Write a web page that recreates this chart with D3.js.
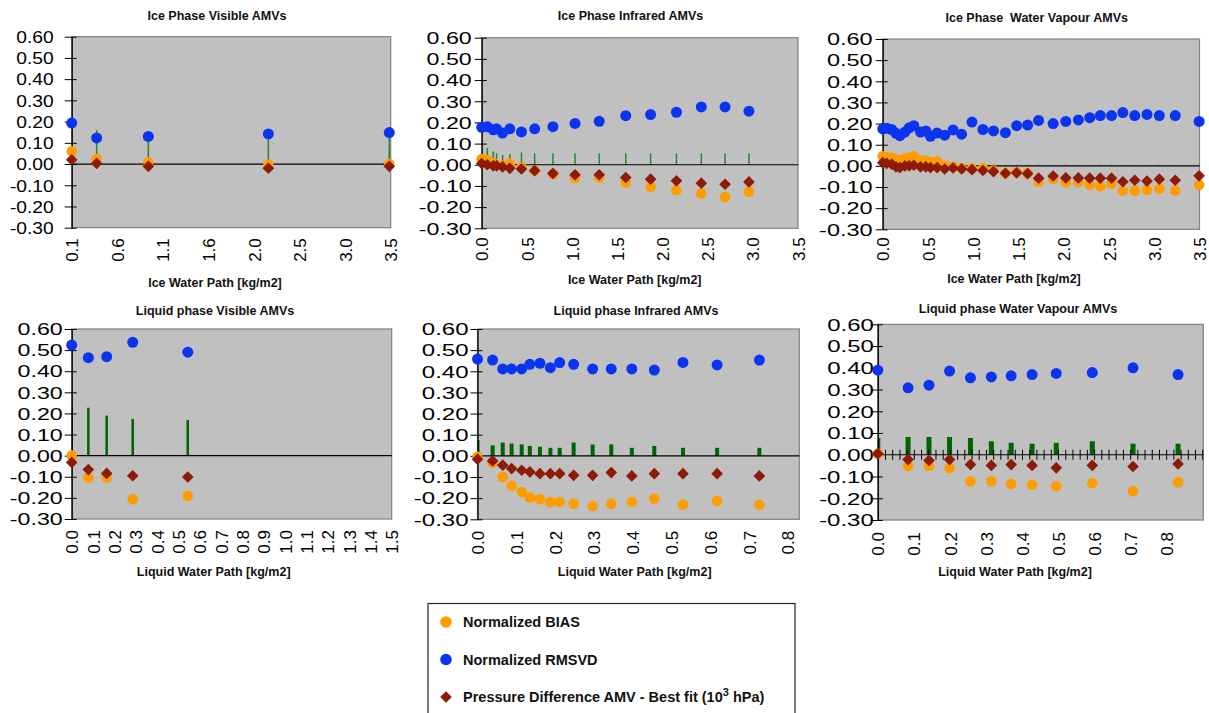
<!DOCTYPE html>
<html>
<head>
<meta charset="utf-8">
<script src="https://cdn.jsdelivr.net/npm/d3@7"></script>
<style>
body { margin: 0; background: #fff; }
text { font-family: "Liberation Sans", Arial, sans-serif; }
</style>
</head>
<body>
<svg id="chart" width="1209" height="713"></svg>
<script>
// ---- data ----
// Ice phase visible
const p1X     = [0.1, 0.366, 0.917, 2.196, 3.485];
const p1Bias  = [0.06, 0.024, 0.008, -0.003, 0.0];
const p1Rmsvd = [0.193, 0.123, 0.13, 0.142, 0.148];
const p1Press = [0.02, 0.003, -0.011, -0.02, -0.011];
const p1Freq  = [0.15, 0.161, 0.126, 0.126, 0.134];
const p1XTicks = [0.1, 0.586, 1.071, 1.557, 2.043, 2.529, 3.014, 3.5];

// Ice phase infrared
const p2X     = [0.0, 0.062, 0.128, 0.165, 0.231, 0.311, 0.44, 0.586, 0.788, 1.033, 1.30, 1.594, 1.869, 2.155, 2.43, 2.693, 2.957];
const p2Bias  = [0.027, 0.022, 0.008, 0.0, -0.005, 0.006, -0.013, -0.028, -0.044, -0.063, -0.06, -0.084, -0.104, -0.12, -0.136, -0.152, -0.127];
const p2Rmsvd = [0.177, 0.18, 0.165, 0.17, 0.15, 0.17, 0.155, 0.17, 0.18, 0.195, 0.205, 0.232, 0.237, 0.248, 0.273, 0.273, 0.253];
const p2Press = [0.006, 0.0, -0.005, -0.005, -0.01, -0.017, -0.02, -0.028, -0.041, -0.047, -0.047, -0.06, -0.068, -0.076, -0.087, -0.092, -0.081];
const p2Freq  = [0.0, 0.079, 0.063, 0.054, 0.047, 0.05, 0.058, 0.054, 0.054, 0.054, 0.054, 0.054, 0.054, 0.054, 0.054, 0.054, 0.054];
const p2XTicks = [0, 0.5, 1.0, 1.5, 2.0, 2.5, 3.0, 3.5];

// Ice phase water vapour
const p3X     = [0.0, 0.044, 0.099, 0.147, 0.19, 0.245, 0.293, 0.344, 0.418, 0.476, 0.528, 0.601, 0.685, 0.777, 0.872, 0.986, 1.107,
                 1.224, 1.356, 1.48, 1.601, 1.722, 1.883, 2.023, 2.162, 2.287, 2.404, 2.528, 2.653, 2.785, 2.92, 3.056, 3.232, 3.496];
const p3Bias  = [0.045, 0.042, 0.038, 0.03, 0.025, 0.035, 0.038, 0.045, 0.025, 0.025, 0.018, 0.02, 0.0, -0.005, -0.01, -0.012, -0.012,
                 -0.022, -0.035, -0.03, -0.035, -0.075, -0.062, -0.078, -0.076, -0.088, -0.097, -0.085, -0.118, -0.118, -0.113, -0.108, -0.117, -0.09];
const p3Rmsvd = [0.175, 0.178, 0.172, 0.154, 0.143, 0.16, 0.18, 0.19, 0.16, 0.165, 0.14, 0.155, 0.145, 0.17, 0.15, 0.207, 0.172,
                 0.165, 0.157, 0.19, 0.193, 0.215, 0.2, 0.21, 0.217, 0.228, 0.238, 0.238, 0.252, 0.238, 0.243, 0.238, 0.238, 0.21];
const p3Press = [0.015, 0.012, 0.008, -0.005, -0.008, 0.0, 0.0, 0.003, -0.005, -0.005, -0.008, -0.008, -0.015, -0.01, -0.015, -0.018, -0.022,
                 -0.027, -0.035, -0.033, -0.037, -0.058, -0.048, -0.057, -0.057, -0.058, -0.058, -0.058, -0.075, -0.068, -0.072, -0.063, -0.068, -0.047];
const p3Freq  = [0.003, 0.003, 0.003, 0.003, 0.003, 0.003, 0.003, 0.004, 0.004, 0.004, 0.004, 0.004, 0.004, 0.005, 0.005, 0.006, 0.005,
                 0.006, 0.005, 0.006, 0.006, 0.006, 0.005, 0.006, 0.005, 0.005, 0.005, 0.005, 0.005, 0.005, 0.005, 0.005, 0.005, 0.005];
const p3XTicks = [0, 0.5, 1.0, 1.5, 2.0, 2.5, 3.0, 3.5];

// Liquid phase visible
const p4X     = [0.0, 0.078, 0.164, 0.286, 0.544];
const p4Bias  = [0.0, -0.104, -0.104, -0.207, -0.191];
const p4Rmsvd = [0.524, 0.464, 0.469, 0.537, 0.49];
const p4Press = [-0.032, -0.066, -0.084, -0.095, -0.101];
const p4Freq  = [0.232, 0.227, 0.19, 0.174, 0.169];
const p4XTicks = [0, 0.1, 0.2, 0.3, 0.4, 0.5, 0.6, 0.7, 0.8, 0.9, 1.0, 1.1, 1.2, 1.3, 1.4, 1.5];

// Liquid phase infrared
const p5X     = [0.0, 0.039, 0.065, 0.088, 0.114, 0.135, 0.161, 0.188, 0.212, 0.248, 0.297, 0.345, 0.398, 0.456, 0.53, 0.618, 0.727];
const p5Bias  = [-0.005, -0.032, -0.1, -0.142, -0.171, -0.197, -0.205, -0.218, -0.218, -0.226, -0.237, -0.226, -0.218, -0.202, -0.231, -0.213, -0.231];
const p5Rmsvd = [0.458, 0.453, 0.411, 0.411, 0.411, 0.433, 0.438, 0.417, 0.441, 0.433, 0.411, 0.411, 0.411, 0.406, 0.442, 0.43, 0.453];
const p5Press = [-0.016, -0.024, -0.044, -0.06, -0.068, -0.076, -0.084, -0.084, -0.084, -0.092, -0.092, -0.079, -0.095, -0.084, -0.084, -0.084, -0.095];
const p5Freq  = [0.074, 0.05, 0.063, 0.058, 0.054, 0.047, 0.043, 0.038, 0.038, 0.063, 0.054, 0.054, 0.038, 0.047, 0.038, 0.038, 0.038];
const p5XTicks = [0, 0.1, 0.2, 0.3, 0.4, 0.5, 0.6, 0.7, 0.8];

// Liquid phase water vapour
const p6X     = [0.0, 0.084, 0.142, 0.199, 0.257, 0.315, 0.37, 0.428, 0.495, 0.595, 0.708, 0.833];
const p6Bias  = [0.005, -0.052, -0.052, -0.062, -0.123, -0.122, -0.134, -0.138, -0.145, -0.131, -0.168, -0.126];
const p6Rmsvd = [0.389, 0.308, 0.32, 0.385, 0.354, 0.358, 0.363, 0.369, 0.374, 0.378, 0.4, 0.369];
const p6Press = [0.005, -0.022, -0.026, -0.022, -0.045, -0.049, -0.045, -0.049, -0.06, -0.049, -0.054, -0.042];
const p6Freq  = [0.077, 0.082, 0.082, 0.082, 0.077, 0.062, 0.055, 0.051, 0.055, 0.062, 0.051, 0.051];
const p6XTicks = [0, 0.1, 0.2, 0.3, 0.4, 0.5, 0.6, 0.7, 0.8];

const yTicks = [-0.3, -0.2, -0.1, 0, 0.1, 0.2, 0.3, 0.4, 0.5, 0.6];

const legendLabels = ["Normalized BIAS", "Normalized RMSVD", "Pressure Difference AMV - Best fit (10"];

const ORANGE = "#ff9c00", BLUE = "#0a34f2", DRED = "#8e1a08";

const panels = [
  { title: "Ice Phase Visible AMVs", xTitle: "Ice Water Path [kg/m2]",
    x: p1X, bias: p1Bias, rmsvd: p1Rmsvd, press: p1Press, freq: p1Freq, xDomain: [0.1, 3.5], xTicks: p1XTicks,
    box: [71.7, 36.7, 390.7, 227.7], tx: 217, ty: 19.5, ax: 215, ay: 286.5,
    yGap: 18, ySx: 1.2, xGap: 10.5, barW: 1.5, barColor: "#2a852a" },
  { title: "Ice Phase Infrared AMVs", xTitle: "Ice Water Path [kg/m2]",
    x: p2X, bias: p2Bias, rmsvd: p2Rmsvd, press: p2Press, freq: p2Freq, xDomain: [0, 3.5], xTicks: p2XTicks,
    box: [481.7, 37.7, 798, 228.3], tx: 630.5, ty: 19.5, ax: 634.7, ay: 283.5,
    yGap: 10, ySx: 1.45, xGap: 9, barW: 1.5, barColor: "#2a852a" },
  { title: "Ice Phase  Water Vapour AMVs", xTitle: "Ice Water Path [kg/m2]",
    x: p3X, bias: p3Bias, rmsvd: p3Rmsvd, press: p3Press, freq: p3Freq, xDomain: [0, 3.5], xTicks: p3XTicks,
    box: [882.7, 39, 1199.5, 229.3], tx: 1036.7, ty: 21.5, ax: 1014, ay: 282.5,
    yGap: 10, ySx: 1.47, xGap: 8, barW: 1, barColor: "#2a852a" },
  { title: "Liquid phase Visible AMVs", xTitle: "Liquid Water Path [kg/m2]",
    x: p4X, bias: p4Bias, rmsvd: p4Rmsvd, press: p4Press, freq: p4Freq, xDomain: [0, 1.5], xTicks: p4XTicks,
    box: [71.7, 329, 391.7, 519], tx: 215, ty: 314.5, ax: 213.7, ay: 575.5,
    yGap: 9, ySx: 1.45, xGap: 11, barW: 2.5, barColor: "#006400", labelClip: 9 },
  { title: "Liquid phase Infrared AMVs", xTitle: "Liquid Water Path [kg/m2]",
    x: p5X, bias: p5Bias, rmsvd: p5Rmsvd, press: p5Press, freq: p5Freq, xDomain: [0, 0.83], xTicks: p5XTicks,
    box: [477.5, 329, 799.3, 519.3], tx: 636, ty: 314.5, ax: 634.7, ay: 576,
    yGap: 9, ySx: 1.5, xGap: 11.5, barW: 4, barColor: "#006400" },
  { title: "Liquid phase Water Vapour AMVs", xTitle: "Liquid Water Path [kg/m2]",
    x: p6X, bias: p6Bias, rmsvd: p6Rmsvd, press: p6Press, freq: p6Freq, xDomain: [0, 0.903], xTicks: p6XTicks,
    box: [877.8, 324.3, 1203.3, 520], tx: 1018, ty: 312.5, ax: 1015, ay: 576,
    yGap: 4, ySx: 1.5, xGap: 12, barW: 5, barColor: "#006400", minorStep: 0.02 }
];

const svg = d3.select("#chart");
const fmtY = d3.formatLocale({ decimal: ".", thousands: ",", grouping: [3], currency: ["", ""], minus: "-" }).format(".2f");
const fmtX = d3.format(".1f");
const diamond = d3.symbol().type(d3.symbolSquare).size(68);

function drawPanel(p, k) {
  const [l, t, r, b] = p.box;
  const x = d3.scaleLinear().domain(p.xDomain).range([l, r]);
  const y = d3.scaleLinear().domain([-0.3, 0.6]).range([b, t]);
  const g = svg.append("g");

  g.append("clipPath").attr("id", "clip" + k)
    .append("rect").attr("x", l).attr("y", t).attr("width", r - l).attr("height", b - t);

  g.append("rect")
    .attr("x", l).attr("y", t).attr("width", r - l).attr("height", b - t)
    .attr("fill", "#c0c0c0").attr("stroke", "#808080").attr("stroke-width", 1.2);

  // frequency bars
  g.append("g").attr("clip-path", `url(#clip${k})`)
    .selectAll("rect").data(p.x).enter().append("rect")
    .attr("x", d => x(d) - p.barW / 2)
    .attr("y", (d, i) => y(p.freq[i]))
    .attr("width", p.barW)
    .attr("height", (d, i) => y(0) - y(p.freq[i]))
    .attr("fill", p.barColor);

  // zero line
  g.append("line")
    .attr("x1", l).attr("x2", r).attr("y1", y(0)).attr("y2", y(0))
    .attr("stroke", "#000").attr("stroke-width", 1.2);

  if (p.minorStep) {
    const minor = d3.range(p.xDomain[0], p.xDomain[1] + 1e-9, p.minorStep);
    const za = g.append("g").attr("transform", `translate(0,${y(0)})`)
      .call(d3.axisBottom(x).tickValues(minor).tickFormat("").tickSize(5));
    za.select(".domain").remove();
    za.selectAll(".tick line").attr("y1", -5).attr("y2", 5).attr("stroke", "#000");
  }

  // y axis
  const yg = g.append("g");
  if (p.labelClip) {
    g.append("clipPath").attr("id", "lclip" + k)
      .append("rect").attr("x", p.labelClip).attr("y", 0).attr("width", 2000).attr("height", 2000);
    yg.attr("clip-path", `url(#lclip${k})`);
  }
  const ya = yg.append("g").attr("transform", `translate(${l},0)`)
    .call(d3.axisLeft(y).tickValues(yTicks).tickFormat(fmtY).tickSize(0));
  ya.attr("font-family", null).attr("font-size", null);
  ya.select(".domain").attr("stroke", "#000").attr("stroke-width", 1.3);
  ya.selectAll(".tick line").attr("x1", -7).attr("x2", 5).attr("stroke", "#000");
  ya.selectAll(".tick text")
    .attr("x", 0).attr("dy", "0.36em")
    .attr("transform", `translate(${-p.yGap},0) scale(${p.ySx},1)`)
    .attr("font-size", 16).attr("fill", "#000");

  // x axis labels
  const xa = g.append("g").attr("transform", `translate(0,${b})`)
    .call(d3.axisBottom(x).tickValues(p.xTicks).tickFormat(fmtX).tickSize(0));
  xa.attr("font-family", null).attr("font-size", null);
  xa.select(".domain").remove();
  xa.selectAll(".tick text")
    .attr("y", 0).attr("dy", "0.36em")
    .attr("text-anchor", "end")
    .attr("transform", `translate(0,${p.xGap}) rotate(-90)`)
    .attr("font-size", 17).attr("fill", "#000");

  // markers
  g.append("g").selectAll("circle").data(p.x).enter().append("circle")
    .attr("cx", d => x(d)).attr("cy", (d, i) => y(p.bias[i]))
    .attr("r", 5.3).attr("fill", ORANGE);
  g.append("g").selectAll("circle").data(p.x).enter().append("circle")
    .attr("cx", d => x(d)).attr("cy", (d, i) => y(p.rmsvd[i]))
    .attr("r", 5.5).attr("fill", BLUE);
  g.append("g").selectAll("path").data(p.x).enter().append("path")
    .attr("d", diamond)
    .attr("transform", (d, i) => `translate(${x(d)},${y(p.press[i])}) rotate(45)`)
    .attr("fill", DRED);

  g.append("text").attr("x", p.tx).attr("y", p.ty)
    .attr("text-anchor", "middle").attr("font-size", 12.5).attr("font-weight", "bold")
    .attr("fill", "#111").text(p.title).style("white-space", "pre");
  g.append("text").attr("x", p.ax).attr("y", p.ay)
    .attr("text-anchor", "middle").attr("font-size", 12.5).attr("font-weight", "bold")
    .attr("fill", "#111").text(p.xTitle);
}

panels.forEach(drawPanel);

// legend
const lg = svg.append("g");
lg.append("rect").attr("x", 428).attr("y", 603.5).attr("width", 367).attr("height", 130)
  .attr("fill", "#fff").attr("stroke", "#222").attr("stroke-width", 1.2);
const legendY = [622, 659.5, 697];
lg.append("circle").attr("cx", 446).attr("cy", legendY[0]).attr("r", 5.8).attr("fill", ORANGE);
lg.append("circle").attr("cx", 446).attr("cy", legendY[1]).attr("r", 5.8).attr("fill", BLUE);
lg.append("path").attr("d", diamond).attr("transform", `translate(446,${legendY[2]}) rotate(45)`).attr("fill", DRED);
lg.selectAll("text").data(legendLabels).enter().append("text")
  .attr("x", 463).attr("y", (d, i) => legendY[i] + 5)
  .attr("font-size", 14.5).attr("font-weight", "bold").attr("fill", "#111")
  .text(d => d);
const last = lg.selectAll("text").filter((d, i) => i === 2);
last.append("tspan").attr("dy", -6).attr("font-size", 11).text("3");
last.append("tspan").attr("dy", 6).text(" hPa)");
</script>
</body>
</html>
